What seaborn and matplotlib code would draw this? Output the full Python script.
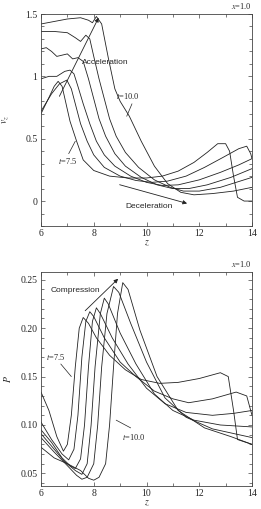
import matplotlib
matplotlib.use("Agg")
import matplotlib.pyplot as plt
import seaborn as sns
import pandas as pd
from matplotlib.ticker import MultipleLocator

sns.set_theme(style="ticks")
plt.rcParams["font.family"] = ["Liberation Serif", "DejaVu Serif"]
plt.rcParams["mathtext.fontset"] = "stix"

times = ["7.5", "8.0", "8.5", "9.0", "9.5", "10.0"]

# ---- top panel: v_z vs z ----
vz_z = {
    "7.5": [6, 6.3, 6.5, 6.65, 6.8, 6.95, 7.1, 7.35, 7.6, 8.0, 8.6, 9.3, 10.0, 10.6, 11.2, 11.8, 12.3, 12.7, 13.0, 13.15, 13.3, 13.45, 13.7, 14],
    "8.0": [6, 6.4, 6.7, 6.98, 7.15, 7.3, 7.5, 7.75, 8.0, 8.4, 9.0, 9.6, 10.2, 10.8, 11.5, 12.2, 12.9, 13.5, 13.8, 13.95, 14],
    "8.5": [6, 6.3, 6.6, 6.9, 7.1, 7.25, 7.4, 7.6, 7.85, 8.1, 8.4, 8.8, 9.4, 10.0, 10.6, 11.2, 12.0, 12.8, 13.5, 14],
    "9.0": [6, 6.2, 6.4, 6.6, 6.8, 7.0, 7.2, 7.4, 7.6, 7.8, 8.0, 8.2, 8.45, 8.8, 9.2, 9.8, 10.4, 11.0, 11.6, 12.3, 13.2, 14],
    "9.5": [6, 6.5, 7.0, 7.3, 7.5, 7.7, 7.85, 8.0, 8.2, 8.4, 8.6, 8.85, 9.2, 9.7, 10.3, 10.9, 11.4, 12.0, 12.8, 14],
    "10.0": [6, 6.5, 7, 7.5, 7.8, 7.95, 8.1, 8.3, 8.55, 8.8, 9.0, 9.35, 9.8, 10.3, 10.8, 11.3, 11.8, 12.5, 13.3, 14],
}
vz_v = {
    "7.5": [0.70, 0.83, 0.92, 0.96, 0.92, 0.78, 0.64, 0.48, 0.33, 0.245, 0.20, 0.185, 0.185, 0.20, 0.24, 0.31, 0.39, 0.46, 0.46, 0.40, 0.20, 0.03, 0.0, 0.0],
    "8.0": [0.72, 0.86, 0.94, 0.97, 0.90, 0.78, 0.62, 0.48, 0.37, 0.27, 0.20, 0.165, 0.15, 0.16, 0.20, 0.27, 0.35, 0.42, 0.44, 0.38, 0.34],
    "8.5": [0.98, 1.00, 1.00, 1.04, 1.05, 1.02, 0.92, 0.78, 0.62, 0.48, 0.37, 0.28, 0.20, 0.15, 0.125, 0.13, 0.17, 0.23, 0.29, 0.34],
    "9.0": [1.22, 1.23, 1.20, 1.16, 1.17, 1.18, 1.14, 1.15, 1.12, 0.98, 0.82, 0.66, 0.52, 0.38, 0.28, 0.19, 0.13, 0.10, 0.10, 0.13, 0.19, 0.26],
    "9.5": [1.36, 1.36, 1.35, 1.31, 1.28, 1.33, 1.30, 1.16, 0.98, 0.82, 0.66, 0.52, 0.39, 0.27, 0.17, 0.11, 0.08, 0.08, 0.11, 0.19],
    "10.0": [1.42, 1.44, 1.46, 1.47, 1.45, 1.43, 1.48, 1.42, 1.15, 0.90, 0.80, 0.68, 0.48, 0.28, 0.14, 0.07, 0.05, 0.06, 0.08, 0.11],
}

# ---- bottom panel: P vs z ----
p_z = {
    "7.5": [6, 6.3, 6.6, 6.85, 7.0, 7.15, 7.3, 7.45, 7.6, 7.8, 8.1, 8.6, 9.2, 9.8, 10.5, 11.2, 12.0, 12.8, 13.1, 13.3, 13.45, 14],
    "8.0": [6, 6.4, 6.8, 7.05, 7.25, 7.4, 7.55, 7.7, 7.85, 8.0, 8.4, 9.0, 9.6, 10.3, 11.0, 11.6, 12.5, 13.4, 13.8, 14],
    "8.5": [6, 6.4, 6.8, 7.1, 7.3, 7.5, 7.65, 7.8, 7.95, 8.1, 8.25, 8.7, 9.3, 10.0, 10.7, 11.5, 12.5, 13.3, 14],
    "9.0": [6, 6.5, 6.9, 7.3, 7.55, 7.75, 7.9, 8.05, 8.25, 8.4, 8.55, 9.0, 9.6, 10.3, 11.0, 11.8, 12.8, 14],
    "9.5": [6, 6.5, 7.0, 7.35, 7.55, 7.75, 8.0, 8.15, 8.3, 8.5, 8.75, 8.95, 9.4, 10.0, 10.7, 11.5, 12.5, 14],
    "10.0": [6, 6.5, 7.0, 7.5, 7.8, 8.0, 8.2, 8.45, 8.6, 8.75, 8.9, 9.1, 9.3, 9.75, 10.4, 11.2, 12.2, 13.2, 14],
}
p_v = {
    "7.5": [0.134, 0.115, 0.088, 0.073, 0.080, 0.11, 0.16, 0.20, 0.211, 0.205, 0.19, 0.172, 0.157, 0.147, 0.143, 0.144, 0.148, 0.154, 0.150, 0.115, 0.085, 0.080],
    "8.0": [0.103, 0.085, 0.070, 0.064, 0.075, 0.11, 0.17, 0.207, 0.217, 0.212, 0.19, 0.165, 0.150, 0.135, 0.127, 0.123, 0.127, 0.134, 0.130, 0.11],
    "8.5": [0.095, 0.082, 0.066, 0.058, 0.055, 0.065, 0.10, 0.16, 0.207, 0.221, 0.215, 0.19, 0.163, 0.138, 0.122, 0.113, 0.110, 0.112, 0.115],
    "9.0": [0.091, 0.075, 0.062, 0.053, 0.049, 0.06, 0.10, 0.16, 0.215, 0.231, 0.225, 0.195, 0.163, 0.132, 0.115, 0.105, 0.100, 0.098],
    "9.5": [0.087, 0.072, 0.058, 0.048, 0.044, 0.046, 0.06, 0.10, 0.16, 0.215, 0.243, 0.237, 0.205, 0.165, 0.128, 0.108, 0.096, 0.087],
    "10.0": [0.077, 0.066, 0.060, 0.053, 0.045, 0.043, 0.046, 0.06, 0.10, 0.16, 0.215, 0.247, 0.240, 0.198, 0.15, 0.115, 0.097, 0.088, 0.080],
}

W, H = 261, 509
fig = plt.figure(figsize=(W / 100, H / 100), dpi=100)
ax1 = fig.add_axes([41 / W, 1 - 226 / H, 211 / W, 212 / H])
ax2 = fig.add_axes([41 / W, 1 - 486 / H, 211 / W, 214 / H])

lc = "#222222"
for t in times:
    d = pd.DataFrame({"z": vz_z[t], "v": vz_v[t]})
    sns.lineplot(data=d, x="z", y="v", ax=ax1, sort=False, color=lc, lw=0.6, estimator=None)
    d2 = pd.DataFrame({"z": p_z[t], "p": p_v[t]})
    sns.lineplot(data=d2, x="z", y="p", ax=ax2, sort=False, color=lc, lw=0.6, estimator=None)

fs = 7
for ax in (ax1, ax2):
    ax.set_xlim(6, 14)
    ax.xaxis.set_major_locator(MultipleLocator(2))
    ax.xaxis.set_minor_locator(MultipleLocator(1))
    ax.tick_params(which="both", direction="in", top=True, right=True, labelsize=fs,
                   width=0.5, color="#444444", pad=2.5)
    ax.tick_params(which="major", length=3)
    ax.tick_params(which="minor", length=2)
    for s in ax.spines.values():
        s.set_linewidth(0.6)
        s.set_color("#444444")
    ax.set_xlabel("$z$", fontsize=fs, labelpad=0.5)

ax1.set_ylim(-0.2, 1.5)
ax1.yaxis.set_major_locator(MultipleLocator(0.5))
ax1.yaxis.set_minor_locator(MultipleLocator(0.1))
ax1.set_yticks([0, 0.5, 1, 1.5])
ax1.set_yticklabels(["0", "0.5", "1", "1.5"])
ax1.set_ylabel("$v_z$", fontsize=fs, labelpad=10)

ax2.set_ylim(0.037, 0.258)
ax2.yaxis.set_major_locator(MultipleLocator(0.05))
ax2.yaxis.set_minor_locator(MultipleLocator(0.01))
ax2.set_ylabel("$P$", fontsize=fs, labelpad=5)

# annotations top
ap = dict(arrowstyle="-|>", lw=0.6, color=lc, mutation_scale=6)
ax1.annotate("", xy=(8.23, 1.49), xytext=(6.65, 0.82), arrowprops=ap)
ax1.text(8.45, 1.11, "Acceleration", fontsize=6, family="Liberation Sans", ha="center", va="center")
ax1.annotate("", xy=(11.64, -0.025), xytext=(8.88, 0.137), arrowprops=ap)
ax1.text(10.1, -0.04, "Deceleration", fontsize=6, family="Liberation Sans", ha="center", va="center")
ax1.text(9.3, 0.84, "$t$=10.0", fontsize=6, ha="center", va="center")
ax1.plot([9.45, 9.25], [0.78, 0.68], color=lc, lw=0.5)
ax1.text(7.0, 0.32, "$t$=7.5", fontsize=6, ha="center", va="center")
ax1.plot([7.05, 7.3], [0.38, 0.48], color=lc, lw=0.5)
ax1.text(1.0, 1.015, "$x$=1.0", fontsize=6, ha="right", va="bottom", transform=ax1.transAxes)

# annotations bottom
ax2.annotate("", xy=(9.0, 0.253), xytext=(7.6, 0.216), arrowprops=ap)
ax2.text(7.3, 0.239, "Compression", fontsize=6, family="Liberation Sans", ha="center", va="center")
ax2.text(6.55, 0.17, "$t$=7.5", fontsize=6, ha="center", va="center")
ax2.plot([6.75, 7.15], [0.163, 0.150], color=lc, lw=0.5)
ax2.text(9.5, 0.088, "$t$=10.0", fontsize=6, ha="center", va="center")
ax2.plot([8.85, 9.4], [0.105, 0.097], color=lc, lw=0.5)
ax2.text(1.0, 1.015, "$x$=1.0", fontsize=6, ha="right", va="bottom", transform=ax2.transAxes)

fig.savefig("out.png", dpi=100, facecolor="white")
